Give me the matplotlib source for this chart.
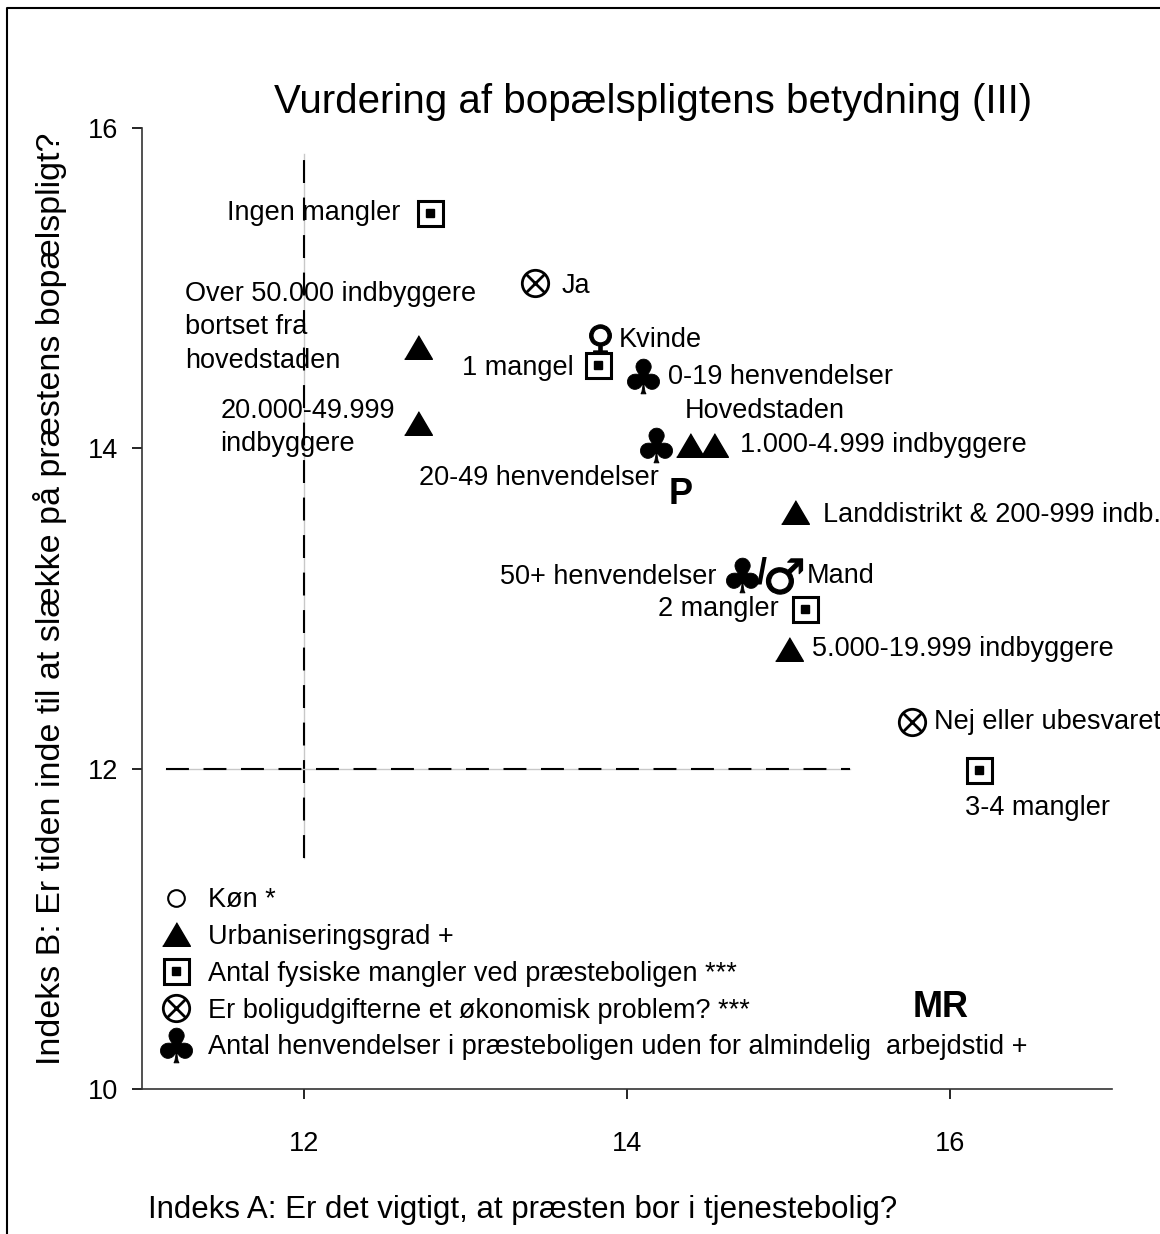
import matplotlib
matplotlib.use("Agg")
import matplotlib.pyplot as plt
from matplotlib.lines import Line2D

plt.rcParams["font.family"] = ["Liberation Sans", "DejaVu Sans"]

# --- data (Indeks A, Indeks B) ---
kon_labels = ["Kvinde", "Mand"]
kon_x = [13.83, 14.97]
kon_y = [14.67, 13.20]

urban_labels = ["Over 50.000 indbyggere\nbortset fra\nhovedstaden",
                "20.000-49.999\nindbyggere",
                "Hovedstaden",
                "1.000-4.999 indbyggere",
                "Landdistrikt & 200-999 indb.",
                "5.000-19.999 indbyggere"]
urban_x = [12.71, 12.71, 14.39, 14.54, 15.04, 15.00]
urban_y = [14.63, 14.16, 14.02, 14.02, 13.60, 12.75]

mangler_labels = ["Ingen mangler", "1 mangel", "2 mangler", "3-4 mangler"]
mangler_x = [12.78, 13.82, 15.10, 16.18]
mangler_y = [15.47, 14.52, 13.00, 11.99]

udgift_labels = ["Ja", "Nej eller ubesvaret"]
udgift_x = [13.43, 15.76]
udgift_y = [15.03, 12.29]

henv_labels = ["0-19 henvendelser", "20-49 henvendelser", "50+ henvendelser"]
henv_x = [14.10, 14.18, 14.71]
henv_y = [14.45, 14.02, 13.21]

# reference points
ref_labels = ["P", "MR"]
ref_x = [14.33, 15.94]
ref_y = [13.71, 10.51]

cut_x = 12
cut_y = 12

legend_labels = ["Køn *", "Urbaniseringsgrad +",
                 "Antal fysiske mangler ved præsteboligen ***",
                 "Er boligudgifterne et økonomisk problem? ***",
                 "Antal henvendelser i præsteboligen uden for almindelig  arbejdstid +"]

# label offsets in pixels (dx, dy, ha)
kon_off = [(19, 1, "left"), (23, 0, "left")]
urban_off = [(-233, 20, "left"), (-198, -5, "left"), (-5, 34, "left"),
             (26, 0, "left"), (28, -3, "left"), (23, 0, "left")]
mangler_off = [(-29, 0, "right"), (-24, -3, "right"), (-26, 0, "right"), (-14, -38, "left")]
udgift_off = [(27, -3, "left"), (22, 0, "left")]
henv_off = [(25, -1, "left"), (3, -33, "right"), (-25, -2, "right")]

FS = 19.5
tri = [(-1, -0.85), (1, -0.85), (0, 0.85)]

fig = plt.figure(figsize=(11.6, 12.34), dpi=100)
ax = fig.add_axes([142 / 1160, 145 / 1234, 970 / 1160, 961 / 1234])
ax.set_xlim(11, 17)
ax.set_ylim(10, 16)

# cut lines
ax.plot([cut_x, cut_x], [11.44, 15.84], color="#c8c8c8", lw=1, zorder=1)
ax.plot([cut_x, cut_x], [11.44, 15.84], color="black", lw=1.5, dashes=(11, 7), zorder=1)
ax.plot([11.15, 15.38], [cut_y, cut_y], color="#c8c8c8", lw=1, zorder=1)
ax.plot([11.15, 15.38], [cut_y, cut_y], color="black", lw=1.5, dashes=(11, 7), zorder=1)

# markers
ax.plot(kon_x[:1], kon_y[:1], ls="none", marker="$♀$", ms=24, color="black", mew=0.8, zorder=2)
ax.plot(kon_x[1:], kon_y[1:], ls="none", marker="$♂$", ms=26, color="black", mew=0.8, zorder=2)
ax.plot(urban_x, urban_y, ls="none", marker=tri, ms=20, color="black", zorder=3)
ax.plot(mangler_x, mangler_y, ls="none", marker="s", ms=18, mfc="white", mec="black", mew=2.2, zorder=3)
ax.plot(mangler_x, mangler_y, ls="none", marker="s", ms=6, color="black", zorder=4)
ax.plot(udgift_x, udgift_y, ls="none", marker="o", ms=19, mfc="white", mec="black", mew=2, zorder=3)
ax.plot(udgift_x, udgift_y, ls="none", marker="x", ms=13.5, color="black", mew=2, zorder=4)
ax.plot(henv_x, henv_y, ls="none", marker="$♣$", ms=25, color="black", mew=0.6, zorder=3)

# labels
for labels, xs, ys, offs in [(kon_labels, kon_x, kon_y, kon_off),
                             (urban_labels, urban_x, urban_y, urban_off),
                             (mangler_labels, mangler_x, mangler_y, mangler_off),
                             (udgift_labels, udgift_x, udgift_y, udgift_off),
                             (henv_labels, henv_x, henv_y, henv_off)]:
    for lab, x, y, (dx, dy, ha) in zip(labels, xs, ys, offs):
        ax.annotate(lab, (x, y), xytext=(dx, dy), textcoords="offset pixels",
                    ha=ha, va="center", fontsize=FS, linespacing=1.36)

ax.annotate("/", (henv_x[2], henv_y[2]), xytext=(20, 1), textcoords="offset pixels",
            ha="center", va="center", fontsize=26, fontweight="bold")

for lab, x, y in zip(ref_labels, ref_x, ref_y):
    ax.text(x, y, lab, ha="center", va="center", fontsize=26, fontweight="bold")

# legend
handles = [
    Line2D([], [], ls="none", marker="o", ms=12, mfc="white", mec="black", mew=1.5),
    Line2D([], [], ls="none", marker=tri, ms=20, color="black"),
    (Line2D([], [], ls="none", marker="s", ms=18, mfc="white", mec="black", mew=2.2),
     Line2D([], [], ls="none", marker="s", ms=6, color="black")),
    (Line2D([], [], ls="none", marker="o", ms=19, mfc="white", mec="black", mew=2),
     Line2D([], [], ls="none", marker="x", ms=13.5, color="black", mew=2)),
    Line2D([], [], ls="none", marker="$♣$", ms=25, color="black", mew=0.6),
]
ax.legend(handles, legend_labels, loc="upper left", bbox_to_anchor=(162 / 1160, 1 - 887 / 1234),
          bbox_transform=fig.transFigure, frameon=False, fontsize=FS, handlelength=1.0,
          handletextpad=0.7, labelspacing=0.4, borderpad=0, borderaxespad=0)

# axes styling
for s in ["top", "right"]:
    ax.spines[s].set_visible(False)
for s in ["left", "bottom"]:
    ax.spines[s].set_linewidth(1.2)
    ax.spines[s].set_color("#333333")
ax.set_xticks([12, 14, 16])
ax.set_yticks([10, 12, 14, 16])
ax.tick_params(axis="y", direction="out", length=7, width=1.2, pad=10, labelsize=19.5)
ax.tick_params(axis="x", direction="out", length=7, width=1.2, pad=23, labelsize=19.5)

fig.text(653 / 1160, 1 - 113 / 1234, "Vurdering af bopælspligtens betydning (III)",
         ha="center", va="baseline", fontsize=29)
fig.text(148 / 1160, 1 - 1218 / 1234, "Indeks A: Er det vigtigt, at præsten bor i tjenestebolig?",
         ha="left", va="baseline", fontsize=22.5)
fig.text(50 / 1160, 1 - 599 / 1234, "Indeks B: Er tiden inde til at slække på præstens bopælspligt?",
         ha="center", va="center", rotation=90, fontsize=24.5)

# outer frame (left and top edges visible)
fig.add_artist(Line2D([7 / 1160, 7 / 1160, 1], [0, 1 - 8 / 1234, 1 - 8 / 1234],
                      transform=fig.transFigure, color="black", lw=1.5))

fig.savefig("out.png", dpi=100)
